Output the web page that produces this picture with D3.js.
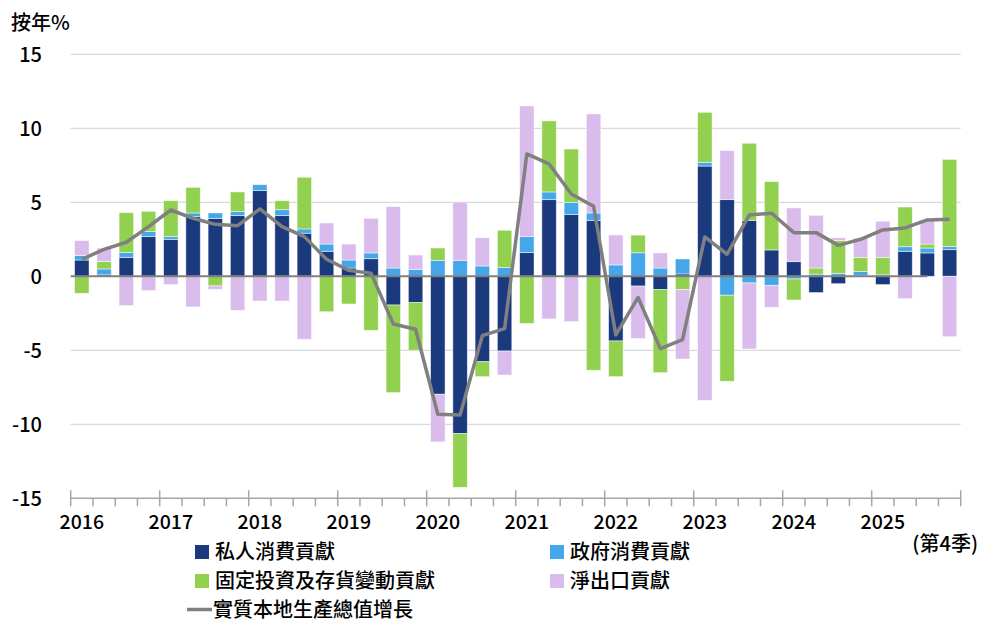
<!DOCTYPE html>
<html>
<head>
<meta charset="utf-8">
<script src="https://cdn.jsdelivr.net/npm/d3@7"></script>
<style>
  html, body { margin: 0; padding: 0; background: #fff; }
  svg { display: block; font-family: "Noto Sans CJK TC", "Noto Sans", sans-serif; }
</style>
</head>
<body>
<svg id="chart" width="981" height="623"></svg>
<script>
// ---- data ----
const years = ["2016","2017","2018","2019","2020","2021","2022","2023","2024","2025"];
const quarters = years.flatMap(y => ["Q1","Q2","Q3","Q4"].map(q => y + q));

const privateConsumption = [1.10,0.10,1.28,2.68, 2.50,4.03,3.90,4.10, 5.79,4.10,2.91,1.69, 0.56,1.19,-1.94,-1.78,
  -7.97,-10.63,-5.77,-5.05, 1.60,5.18,4.17,3.78, -4.37,-0.66,-0.90,0.16, 7.45,5.18,3.78,1.78,
  0.99,-1.10,-0.50,0.05, -0.56,1.69,1.58,1.80];
const govConsumption = [0.30,0.40,0.32,0.34, 0.18,0.25,0.38,0.27, 0.40,0.40,0.29,0.49, 0.54,0.39,0.56,0.47,
  1.08,1.08,0.70,0.59, 1.08,0.52,0.81,0.50, 0.77,1.59,0.56,1.01, 0.25,-1.28,-0.45,-0.61,
  -0.18,0.15,0.20,0.27, 0.10,0.31,0.33,0.22];
const investment = [-1.15,0.50,2.70,1.37, 2.43,1.73,-0.65,1.33, 0.00,0.61,3.49,-2.39, -1.87,-3.65,-5.92,-3.22,
  0.83,-3.63,-1.01,2.52, -3.18,4.80,3.62,-6.35, -2.41,1.19,-5.61,-0.90, 3.38,-5.81,5.21,4.62,
  -1.42,0.41,2.21,0.96, 1.18,2.68,0.27,5.88];
const netExports = [1.01,0.91,-1.98,-0.97, -0.56,-2.07,-0.23,-2.30, -1.67,-1.67,-4.26,1.42, 1.08,2.34,4.15,0.97,
  -3.22,3.94,1.91,-1.62, 8.83,-2.88,-3.06,6.69, 2.02,-3.54,1.02,-4.69, -8.38,3.31,-4.46,-1.48,
  3.63,3.56,0.20,1.29, 2.44,-1.51,1.63,-4.08];
const realGDP = [1.15,1.82,2.30,3.36, 4.48,3.92,3.51,3.42, 4.55,3.36,2.68,1.15, 0.40,0.20,-3.22,-3.58,
  -9.32,-9.37,-4.01,-3.54, 8.27,7.59,5.56,4.73, -3.96,-1.43,-4.89,-4.28, 2.66,1.49,4.14,4.26,
  2.95,2.95,2.09,2.50, 3.13,3.27,3.81,3.85];

const seriesNames = ["私人消費貢獻","政府消費貢獻","固定投資及存貨變動貢獻","淨出口貢獻"];
const lineName = "實質本地生產總值增長";
const yTicks = [15,10,5,0,-5,-10,-15];
const colors = ["#1b3a7e","#45a7e9","#92d050","#d9bcec"];
const lineColor = "#808080";

// ---- build ----
const svg = d3.select("#chart");
const keys = ["p","g","i","n"];
const rows = quarters.map((q, k) => ({q, p: privateConsumption[k], g: govConsumption[k], i: investment[k], n: netExports[k]}));
const stacked = d3.stack().keys(keys).offset(d3.stackOffsetDiverging)(rows);

const x = d3.scaleBand().domain(quarters).range([70.7, 960.7]).paddingInner(0.35).paddingOuter(0.175);
const y = d3.scaleLinear().domain([-15, 15]).range([498.3, 54.3]);
const xLeft = 70.7, xRight = 960.7;
const FW = 500;

// gridlines
svg.append("g").selectAll("line").data(yTicks.filter(v => v !== 0 && v !== -15)).join("line")
  .attr("x1", xLeft).attr("x2", xRight)
  .attr("y1", d => y(d)).attr("y2", d => y(d))
  .attr("stroke", "#d9d9d9").attr("stroke-width", 1.2);

// y axis labels
const yAxis = d3.axisLeft(y).tickValues(yTicks).tickSize(0).tickPadding(0).tickFormat(d => String(d));
const yg = svg.append("g").attr("transform", "translate(42,0)").call(yAxis);
yg.select(".domain").remove();
yg.selectAll("text").attr("font-size", 20).attr("font-weight", FW).attr("fill", "#000")
  .attr("font-family", "'Noto Sans CJK TC', sans-serif").attr("dy", "0.34em");

// bars
svg.append("g").selectAll("g").data(stacked).join("g")
  .attr("fill", (d, k) => colors[k])
  .selectAll("rect").data(d => d).join("rect")
  .attr("x", d => x(d.data.q))
  .attr("width", x.bandwidth())
  .attr("y", d => y(Math.max(d[0], d[1])))
  .attr("height", d => Math.abs(y(d[0]) - y(d[1])))
  .attr("stroke", "#ffffff").attr("stroke-opacity", 0.6).attr("stroke-width", 0.8);

// zero line
svg.append("line")
  .attr("x1", xLeft).attr("x2", x(quarters[38]) + x.bandwidth() / 2)
  .attr("y1", y(0)).attr("y2", y(0))
  .attr("stroke", "#808080").attr("stroke-width", 2);

// GDP line
const line = d3.line().x((d, k) => x(quarters[k]) + x.bandwidth() / 2).y(d => y(d));
svg.append("path").datum(realGDP).attr("d", line)
  .attr("fill", "none").attr("stroke", lineColor).attr("stroke-width", 3.5).attr("stroke-linejoin", "round");

// x axis
const axisY = y(-15);
svg.append("line").attr("x1", xLeft).attr("x2", xRight).attr("y1", axisY).attr("y2", axisY)
  .attr("stroke", "#a6a6a6").attr("stroke-width", 1.5);
const step = x.step();
const boundaries = d3.range(41);
svg.append("g").selectAll("line").data(boundaries).join("line")
  .attr("x1", k => xLeft + k * step).attr("x2", k => xLeft + k * step)
  .attr("y1", k => k % 4 === 0 ? axisY - 8 : axisY)
  .attr("y2", axisY + 8)
  .attr("stroke", "#a6a6a6").attr("stroke-width", 1.5);
svg.append("g").selectAll("text").data(years).join("text")
  .attr("x", (d, k) => x(d + "Q1") + x.bandwidth() / 2)
  .attr("y", 529)
  .attr("text-anchor", "middle").attr("font-size", 19.5).attr("font-weight", FW).attr("fill", "#000")
  .text(d => d);

// titles
svg.append("text").attr("x", 11).attr("y", 30).attr("font-size", 20).attr("font-weight", FW).attr("fill", "#000").text("按年%");
svg.append("text").attr("x", 978).attr("y", 551).attr("text-anchor", "end").attr("font-size", 20).attr("font-weight", FW).attr("fill", "#000").text("(第4季)");

// legend
const legendPos = [[195, 552], [550, 552], [195, 581], [550, 581]];
const lg = svg.append("g");
seriesNames.forEach((name, k) => {
  const [lx, ly] = legendPos[k];
  lg.append("rect").attr("x", lx).attr("y", ly - 7).attr("width", 14).attr("height", 14).attr("fill", colors[k]);
  lg.append("text").attr("x", lx + 20).attr("y", ly).attr("dy", "0.35em").attr("font-size", 20).attr("font-weight", FW).attr("fill", "#000").text(name);
});
lg.append("line").attr("x1", 187).attr("x2", 212).attr("y1", 609.5).attr("y2", 609.5)
  .attr("stroke", lineColor).attr("stroke-width", 3.5);
lg.append("text").attr("x", 213).attr("y", 609.5).attr("dy", "0.35em").attr("font-size", 20).attr("font-weight", FW).attr("fill", "#000").text(lineName);
</script>
</body>
</html>
